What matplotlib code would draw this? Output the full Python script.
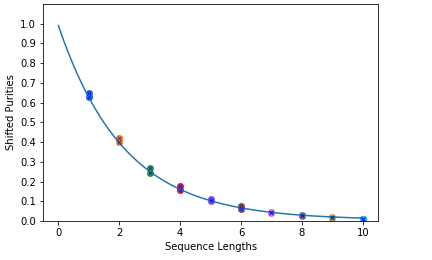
import numpy as np
import matplotlib
matplotlib.use("Agg")
import matplotlib.pyplot as plt

# sequence lengths and the two measured shifted purities per length
lengths = [1, 2, 3, 4, 5, 6, 7, 8, 9, 10]
seed_a = [0.650, 0.420, 0.270, 0.175, 0.110, 0.075, 0.045, 0.032, 0.019, 0.012]
seed_b = [0.630, 0.400, 0.245, 0.155, 0.100, 0.060, 0.040, 0.025, 0.015, 0.008]

# fit parameters  A * alpha**m + B
fit_A = 0.985
fit_alpha = 0.63
fit_B = 0.005

fig = plt.figure(figsize=(432 / 72, 260 / 72), dpi=72)
ax = fig.add_axes([0.1, 0.15, 0.775, 0.835])

m = np.linspace(0, 10, 200)
ax.plot(m, fit_A * fit_alpha ** m + fit_B, color="tab:blue")

for L, a, b in zip(lengths, seed_a, seed_b):
    ax.scatter([L, L], [a, b])
    ax.plot([L, L], [a, b], "x", color="blue", markersize=4,
            markeredgewidth=0.8, alpha=0.8)

ax.set_ylim(0, 1.1)
ax.set_yticks(np.arange(0, 1.01, 0.1))
ax.set_xlabel("Sequence Lengths")
ax.set_ylabel("Shifted Purities")

fig.savefig("out.png", dpi=72)
